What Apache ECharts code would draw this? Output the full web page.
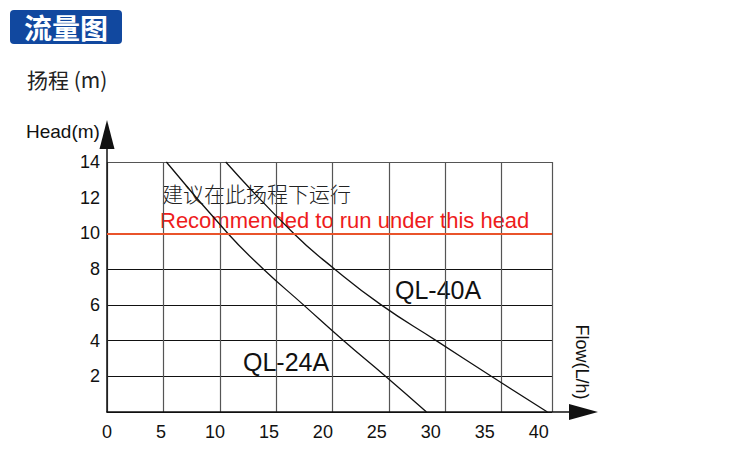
<!DOCTYPE html>
<html>
<head>
<meta charset="utf-8">
<title>流量图</title>
<script src="https://cdn.jsdelivr.net/npm/echarts@6/dist/echarts.min.js"></script>
<style>
html, body { margin: 0; padding: 0; background: #fff; }
#chart { width: 750px; height: 461px; }
</style>
</head>
<body>
<div id="chart"></div>
<script>
// head (m) at each gridline, top to bottom
const heads = [14, 10, 8, 6, 4, 2, 0];
// flow (L/h) where each pump curve crosses those heads
const flowQL24A = [5.5, 11.2, 14.5, 18.2, 21.9, 25.8, 29.6];
const flowQL40A = [11.0, 17.3, 21.1, 25.4, 30.5, 35.6, 40.8];
const recommendedHead = 10;

// tick labels
const xTicks = [0, 5, 10, 15, 20, 25, 30, 35, 40];
const yTicks = [2, 4, 6, 8, 10, 12, 14];

const pairs = (flows) => flows.map((f, i) => [f, heads[i]]);

const latin = 'Arial, "Liberation Sans", sans-serif';
const cjk = '"Noto Sans CJK SC", sans-serif';

const option = {
	animation: false,
	title: {
		text: "流量图",
		left: 10,
		top: 10,
		padding: [3, 14],
		backgroundColor: "#11489f",
		borderRadius: 4,
		textStyle: {
			color: "#fff",
			fontSize: 28,
			lineHeight: 28,
			fontWeight: "bold",
			fontFamily: cjk,
		},
	},
	grid: [
		// axes with arrows
		{ left: 107, top: 149, width: 462, height: 263 },
		// boxed grid
		{ left: 107, top: 162, width: 445, height: 250 },
	],
	xAxis: [
		{
			gridIndex: 0,
			type: "value",
			min: 0,
			max: 42.8,
			interval: 5,
			axisLine: {
				lineStyle: { color: "#111", width: 1.5 },
				symbol: ["none", "triangle"],
				symbolSize: [16, 29],
				symbolOffset: [0, 14.5],
			},
			axisTick: { show: false },
			splitLine: { show: false },
			axisLabel: {
				margin: 11,
				color: "#111",
				fontSize: 18,
				fontFamily: latin,
				formatter: (v) => (xTicks.includes(v) ? String(v) : ""),
			},
		},
		{
			gridIndex: 1,
			type: "value",
			min: 0,
			max: 39.46,
			interval: 5,
			axisLine: { show: false },
			axisTick: { show: false },
			axisLabel: { show: false },
			splitLine: { lineStyle: { color: "#555", width: 1.2 } },
		},
	],
	yAxis: [
		{
			gridIndex: 0,
			type: "value",
			min: 0,
			max: 14.73,
			interval: 2,
			axisLine: {
				show: true,
				lineStyle: { color: "#111", width: 1.5 },
				symbol: ["none", "triangle"],
				symbolSize: [15, 29],
				symbolOffset: [0, 14.5],
			},
			axisTick: { show: false },
			splitLine: { show: false },
			axisLabel: {
				margin: 7,
				padding: [6, 0, 0, 0],
				color: "#111",
				fontSize: 18,
				fontFamily: latin,
				formatter: (v) => (yTicks.includes(v) ? String(v) : ""),
			},
		},
		{
			gridIndex: 1,
			type: "value",
			min: 0,
			max: 14,
			interval: 2,
			axisLine: { show: false },
			axisTick: { show: false },
			axisLabel: { show: false },
			splitLine: {
				lineStyle: {
					// no line at 12, the note sits there
					color: ["#111", "#111", "#111", "#111", "#111", "#111", "rgba(0,0,0,0)", "#555"],
					width: 1.2,
				},
			},
		},
	],
	series: [
		{
			name: "QL-24A",
			type: "line",
			xAxisIndex: 0,
			yAxisIndex: 0,
			data: pairs(flowQL24A),
			smooth: 0.5,
			symbol: "none",
			lineStyle: { color: "#111", width: 1.3 },
		},
		{
			name: "QL-40A",
			type: "line",
			xAxisIndex: 0,
			yAxisIndex: 0,
			data: pairs(flowQL40A),
			smooth: 0.5,
			symbol: "none",
			lineStyle: { color: "#111", width: 1.3 },
		},
		{
			name: "recommended",
			type: "line",
			xAxisIndex: 1,
			yAxisIndex: 1,
			data: [],
			markLine: {
				silent: true,
				symbol: "none",
				label: { show: false },
				lineStyle: { color: "#e9532b", width: 2, type: "solid" },
				data: [{ yAxis: recommendedHead }],
			},
		},
	],
	graphic: [
		{ type: "text", x: 27, y: 79, style: { text: "扬程 (m)", font: '21px ' + cjk, fill: "#222", verticalAlign: "middle" } },
		{ type: "text", x: 26, y: 131, style: { text: "Head(m)", font: '19px ' + latin, fill: "#111", verticalAlign: "middle" } },
		{ type: "text", x: 162, y: 193, style: { text: "建议在此扬程下运行", font: '300 21px ' + cjk, fill: "#222", verticalAlign: "middle" } },
		{ type: "text", x: 160, y: 220, style: { text: "Recommended to run under this head", font: '22px ' + latin, fill: "#ee1c1c", verticalAlign: "middle" } },
		{ type: "text", x: 395, y: 290, style: { text: "QL-40A", font: '25px ' + latin, fill: "#111", verticalAlign: "middle" } },
		{ type: "text", x: 243, y: 362, style: { text: "QL-24A", font: '25px ' + latin, fill: "#111", verticalAlign: "middle" } },
		{
			type: "text",
			x: 582,
			y: 362,
			rotation: -Math.PI / 2,
			style: { text: "Flow(L/h)", font: '18px ' + latin, fill: "#111", align: "center", verticalAlign: "middle" },
		},
	],
};

const chart = echarts.init(document.getElementById("chart"), null, { renderer: "svg" });
chart.setOption(option);
</script>
</body>
</html>
